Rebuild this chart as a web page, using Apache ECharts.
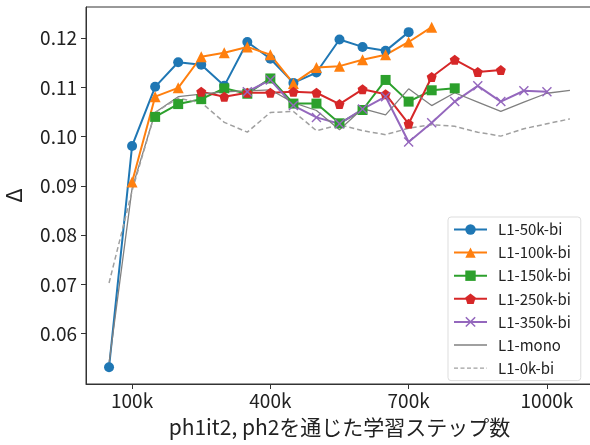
<!DOCTYPE html>
<html><head><meta charset="utf-8">
<script src="https://cdn.jsdelivr.net/npm/echarts@6/dist/echarts.min.js"></script>
<style>html,body{margin:0;padding:0;background:#fff}#c{width:590px;height:445px}</style>
</head><body><div id="c"></div>
<script>
// steps in thousands
const steps = [50,100,150,200,250,300,350,400,450,500,550,600,650,700,750,800,850,900,950,1000,1050];
const s50k  = [0.0532,0.0981,0.1101,0.1151,0.1146,0.1103,0.1192,0.1158,0.1109,0.1130,0.1197,0.1182,0.1174,0.1212,null,null,null,null,null,null,null];
const s100k = [null,0.0908,0.1081,0.1099,0.1162,0.1170,0.1182,0.1166,0.1108,0.1140,0.1143,0.1156,0.1166,0.1192,0.1222,null,null,null,null,null,null];
const s150k = [null,null,0.1040,0.1066,0.1076,0.1098,0.1087,0.1118,0.1067,0.1067,0.1027,0.1054,0.1115,0.1071,0.1094,0.1098,null,null,null,null,null];
const s250k = [null,null,null,null,0.1091,0.1081,0.1089,0.1089,0.1091,0.1089,0.1066,0.1096,0.1086,0.1026,0.1121,0.1156,0.1131,0.1135,null,null,null];
const s350k = [null,null,null,null,null,null,0.1091,0.1115,0.1063,0.1039,0.1026,0.1056,0.1081,0.0989,0.1028,0.1071,0.1103,0.1071,0.1093,0.1091,null];
const sMono = [0.0540,0.0895,0.1049,0.1081,0.1086,0.1091,0.1093,0.1095,0.1069,0.1053,0.1014,0.1057,0.1044,0.1097,0.1063,0.1089,0.1070,0.1051,0.1070,0.1088,0.1094];
const s0k   = [0.0703,0.0890,0.1049,0.1078,0.1069,0.1029,0.1009,0.1049,0.1051,0.1012,0.1024,0.1012,0.1004,0.1017,0.1024,0.1021,0.1009,0.1001,0.1016,0.1026,0.1036];
const names = ['L1-50k-bi','L1-100k-bi','L1-150k-bi','L1-250k-bi','L1-350k-bi','L1-mono','L1-0k-bi'];
const xTicks = [100,400,700,1000];
const yTicks = [0.06,0.07,0.08,0.09,0.10,0.11,0.12];

const FONT = '"Noto Sans CJK JP", "Noto Sans", sans-serif';
const pent = 'path://M0,-1 L0.951,-0.309 L0.588,0.809 L-0.588,0.809 L-0.951,-0.309 Z';
const xmark = 'path://M-1,-0.8 L-0.8,-1 L0,-0.2 L0.8,-1 L1,-0.8 L0.2,0 L1,0.8 L0.8,1 L0,0.2 L-0.8,1 L-1,0.8 L-0.2,0 Z';
const solidIcon = 'path://M0,0 L33,0 L33,1.3 L0,1.3 Z';
let dashIcon = 'path://';
for (let x = 0; x < 33; x += 6.5) { const e = Math.min(x + 4, 33); dashIcon += `M${x},0 L${e},0 L${e},1.3 L${x},1.3 Z `; }
dashIcon += 'M0,0 L0,0.01 Z';
function pairs(arr){ const out=[]; arr.forEach((v,i)=>{ if(v!==null) out.push([steps[i],v]); }); return out; }
function mk(name, arr, color, symbol, size, lw, type){
  return {name, type:'line', data:pairs(arr), symbol: symbol||'none', symbolSize:size||0,
    showSymbol: !!symbol, itemStyle:{color, opacity:1},
    lineStyle:{color, width:lw, type:type||'solid'}, emphasis:{disabled:true}, animation:false, z:2};
}
const series = [
  mk(names[0], s50k, '#1f77b4', 'circle', 10, 2),
  mk(names[1], s100k, '#ff7f0e', 'triangle', 11, 2),
  mk(names[2], s150k, '#2ca02c', 'rect', 10, 2),
  mk(names[3], s250k, '#d62728', pent, 10, 2),
  mk(names[4], s350k, '#9467bd', xmark, 10, 2),
  mk(names[5], sMono, '#808080', null, 0, 1.3),
  mk(names[6], s0k, '#a0a0a0', null, 0, 1.5, [5,3]),
];
const legendData = names.map((n,i)=> i===5 ? {name:n, icon:solidIcon} : i===6 ? {name:n, icon:dashIcon} : {name:n});
const chart = echarts.init(document.getElementById('c'), null, {renderer:'canvas'});
chart.setOption({
  animation:false,
  textStyle:{fontFamily:FONT},
  grid:{left:86, top:7, width:507, height:377, show:true, borderColor:'#333', borderWidth:1, backgroundColor:'transparent', outerBoundsMode:'none', containLabel:false},
  legend:{orient:'vertical', left:448, top:217, padding:[5,10,5,5], itemGap:8.1, itemWidth:33, itemHeight:13,
    backgroundColor:'#fff', borderColor:'#ddd', borderWidth:1, borderRadius:3,
    textStyle:{fontSize:15, color:'#222', fontFamily:FONT, padding:[0,0,0,6]}, data:legendData},
  xAxis:{type:'value', min:0, max:1100,
    name:'ph1it2, ph2を通じた学習ステップ数', nameLocation:'middle', nameGap:33,
    nameTextStyle:{fontSize:21, color:'#222', fontFamily:FONT},
    axisLine:{show:true, lineStyle:{color:'#333', width:1}},
    axisTick:{show:true, inside:false, length:5, lineStyle:{color:'#333'}, customValues:xTicks},
    axisLabel:{fontSize:19, color:'#222', margin:7, customValues:xTicks, formatter:v=>v+'k'},
    splitLine:{show:false}},
  yAxis:{type:'value', min:0.0498, max:0.1263,
    name:'Δ', nameLocation:'middle', nameGap:61, nameRotate:90,
    nameTextStyle:{fontSize:22, color:'#222', fontFamily:FONT},
    axisLine:{show:true, lineStyle:{color:'#333', width:1}},
    axisTick:{show:true, inside:false, length:5, lineStyle:{color:'#333'}, customValues:yTicks},
    axisLabel:{fontSize:19, color:'#222', margin:9, customValues:yTicks, formatter:v=>v.toFixed(2)},
    splitLine:{show:false}},
  series
});
</script></body></html>
